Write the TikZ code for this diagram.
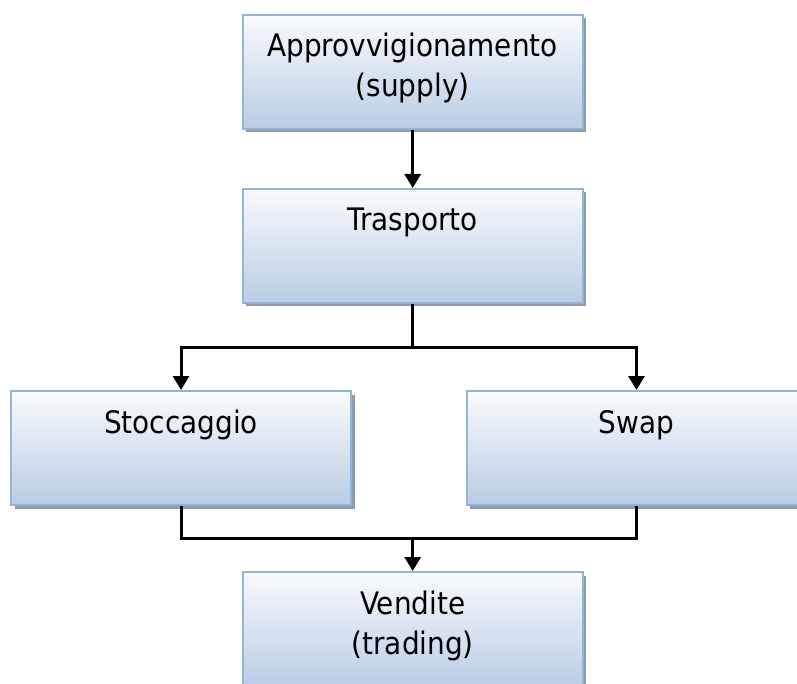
\documentclass[tikz,border=0pt]{standalone}
\usepackage{fontspec}
\setmainfont{DejaVu Sans Condensed}
\usetikzlibrary{arrows.meta,shadows}

\definecolor{boxline}{HTML}{95B3D7}
\definecolor{boxtop}{HTML}{F9FAFD}
\definecolor{boxmid}{HTML}{E8EEF6}
\definecolor{boxbot}{HTML}{B9CDE5}
\definecolor{boxshadow}{HTML}{8C9BB0}

\tikzset{
  stage/.style={rectangle, draw=boxline, line width=2pt,
    top color=boxtop, middle color=boxmid, bottom color=boxbot,
    drop shadow={shadow xshift=3.5pt, shadow yshift=-3.5pt, fill=boxshadow, opacity=1},
    minimum width=340pt, text width=330pt, inner xsep=5pt, inner ysep=0pt,
    align=center, text height=42pt, text depth=72pt,
    font=\fontsize{31}{40}\selectfont},
  link/.style={line width=3pt, black},
  arr/.style={link, -{Triangle[length=14pt,width=16pt]}}
}

\begin{document}
\begin{tikzpicture}[x=1pt,y=-1pt]
\useasboundingbox (0,0) rectangle (797,684);

% stages
\node[stage] (supply) at (412.7,14) [anchor=north] {Approvvigionamento\\(supply)};
\node[stage] (trasp) at (412.7,188) [anchor=north] {Trasporto};
\node[stage] (stocc) at (181,390) [anchor=north] {Stoccaggio};
\node[stage] (swap) at (636.5,390) [anchor=north] {Swap};
\node[stage] (vend) at (412.7,571) [anchor=north] {Vendite\\(trading)};

% junctions
\coordinate (split) at (412.7,347);
\coordinate (join) at (412.7,538);

% connectors
\draw[arr] (supply.south) -- (trasp.north);
\draw[link] (trasp.south) -- (split);
\draw[arr] (split) -| (stocc.north);
\draw[arr] (split) -| (swap.north);
\draw[link] (stocc.south) |- (join);
\draw[link] (swap.south) |- (join);
\draw[arr] (join) -- (vend.north);
\end{tikzpicture}
\end{document}
